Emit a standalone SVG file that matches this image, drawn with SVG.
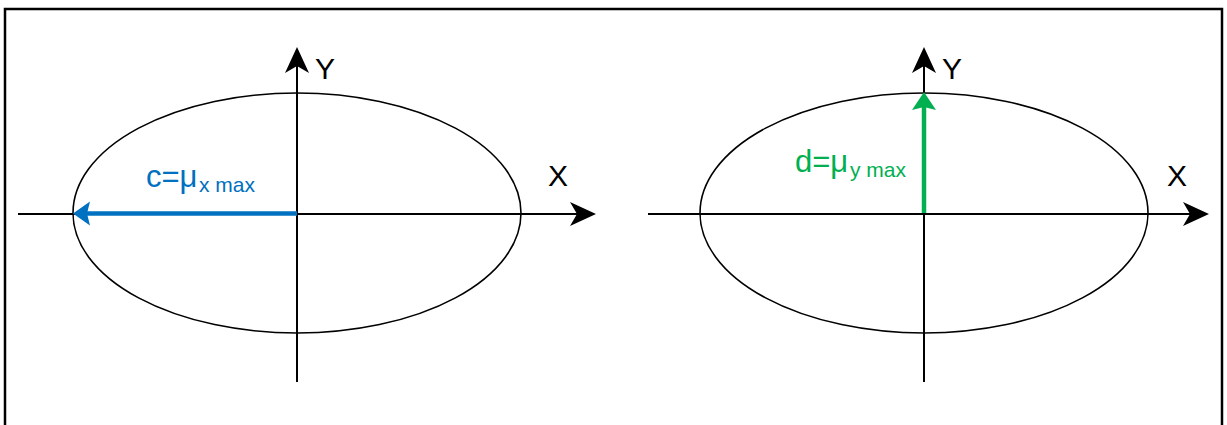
<svg xmlns="http://www.w3.org/2000/svg" width="1227" height="425" viewBox="0 0 1227 425">
  <style>
    .frame { fill: #ffffff; stroke: #000000; stroke-width: 2.5; }
    .ell { fill: none; stroke: #000000; stroke-width: 1.6; }
    .axis { fill: none; stroke: #000000; stroke-width: 2; }
    .head { fill: #000000; stroke: none; }
    .lbl { font-family: "Liberation Sans", Arial, sans-serif; font-size: 30px; fill: #000000; }
    .big { font-family: "Liberation Sans", Arial, sans-serif; font-size: 31px; }
    .sub { font-size: 21px; }
    .blue { fill: #0070C0; }
    .green { fill: #00B050; }
  </style>
  <rect width="1227" height="425" fill="#ffffff"/>
  <g id="frame">
    <rect class="frame" x="5" y="9" width="1217" height="430"/>
  </g>
  <g id="ellipse-left">
    <ellipse class="ell" cx="297" cy="213" rx="224" ry="120"/>
  </g>
  <g id="ellipse-right">
    <ellipse class="ell" cx="924" cy="213" rx="224" ry="120"/>
  </g>
  <g id="connectors">
    <!-- left axes -->
    <line class="axis" x1="18" y1="214" x2="585" y2="214"/>
    <path class="head" d="M596,214 L570,202 L577,214 L570,226 Z"/>
    <line class="axis" x1="297" y1="382" x2="297" y2="58"/>
    <path class="head" d="M297,47 L285,73 L297,66 L309,73 Z"/>
    <!-- right axes -->
    <line class="axis" x1="648" y1="214" x2="1198" y2="214"/>
    <path class="head" d="M1209,214 L1183,202 L1190,214 L1183,226 Z"/>
    <line class="axis" x1="924" y1="382" x2="924" y2="58"/>
    <path class="head" d="M924,47 L912,73 L924,66 L936,73 Z"/>
    <!-- blue arrow -->
    <line x1="297" y1="213.5" x2="86" y2="213.5" stroke="#0070C0" stroke-width="4.5"/>
    <path class="blue" d="M73,213.5 L90,201.5 L87,213.5 L90,225.5 Z"/>
    <!-- green arrow -->
    <line x1="924" y1="213" x2="924" y2="105" stroke="#00B050" stroke-width="4.5"/>
    <path class="green" d="M924,92 L912,110 L924,107 L936,110 Z"/>
  </g>
  <g id="label-left-y">
    <text class="lbl" x="315" y="79">Y</text>
  </g>
  <g id="label-left-x">
    <text class="lbl" x="548" y="186">X</text>
  </g>
  <g id="label-right-y">
    <text class="lbl" x="942" y="79">Y</text>
  </g>
  <g id="label-right-x">
    <text class="lbl" x="1167" y="186">X</text>
  </g>
  <g id="label-c">
    <text class="big blue" x="146" y="187">c=μ<tspan class="sub" x="199" y="192">x max</tspan></text>
  </g>
  <g id="label-d">
    <text class="big green" x="795" y="172">d=μ<tspan class="sub" x="850" y="177">y max</tspan></text>
  </g>
</svg>
